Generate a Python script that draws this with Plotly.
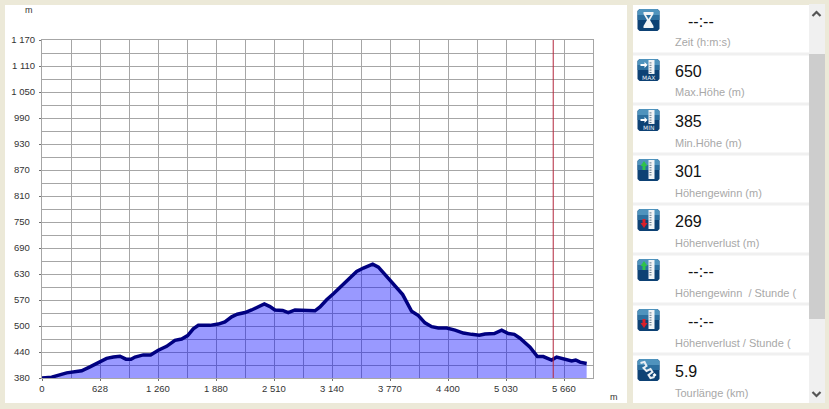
import plotly.graph_objects as go

distance_m = [0,105,268,431,521,612,702,775,847,912,967,1010,1100,1180,1263,1354,1444,1517,1582,1643,1698,1824,1915,1987,2060,2121,2205,2277,2349,2415,2476,2530,2614,2675,2748,2820,2892,2965,3020,3092,3165,3255,3346,3418,3491,3592,3654,3726,3798,3918,4015,4088,4160,4233,4305,4396,4486,4577,4667,4750,4812,4913,4993,5065,5130,5192,5301,5381,5445,5536,5590,5663,5717,5753,5797,5844,5916]
elevation_m = [380,382,392,397,406,417,426,429,431,424,424,429,434,434,445,454,468,471,479,495,503,503,506,511,523,529,533,539,547,553,547,539,538,533,539,538,537,537,546,563,577,596,614,629,637,646,639,621,602,575,536,526,509,500,497,497,492,485,482,480,483,484,492,484,482,473,452,430,430,422,429,425,420,420,422,417,414]
marker_m = [5553, 5553]
marker_elev = [380, 1170]

x_tick_labels = ["0","628","1\u00a0260","1\u00a0880","2\u00a0510","3\u00a0140","3\u00a0770","4\u00a0400","5\u00a0030","5\u00a0660"]
y_tick_labels = ["380","440","500","570","630","690","750","810","870","930","990","1\u00a0050","1\u00a0110","1\u00a0170"]

stat_values = ["--:--","650","385","301","269","--:--","--:--","5.9"]
stat_labels = ["Zeit (h:m:s)","Max.Höhe (m)","Min.Höhe (m)","Höhengewinn (m)","Höhenverlust (m)",
               "Höhengewinn  / Stunde (","Höhenverlust / Stunde (","Tourlänge (km)"]
stat_icons = ["time","max","min","gain","loss","gain","loss","road"]

W, H = 829, 409
L, R, T, B = 42, 593, 40, 378
X_MAX = 5985
Y_MIN, Y_MAX = 380, 1170
FONT = "Liberation Sans"
x_step = X_MAX / 19
y_step = (Y_MAX - Y_MIN) / 13

def px(x): return (x - L) / (R - L)
def py(y): return (B - y) / (B - T)

shapes, annos = [], []

def rect(x0, y0, x1, y1, color):
    shapes.append(dict(type="rect", xref="paper", yref="paper", layer="below",
                       x0=px(x0), x1=px(x1), y0=py(y0), y1=py(y1),
                       fillcolor=color, line=dict(width=0)))

def path(points, fill=None, line=None, width=1, closed=True, curve=False):
    d = f"M{px(points[0][0]):.5f},{py(points[0][1]):.5f} "
    d += " ".join(f"L{px(a):.5f},{py(b):.5f}" for a, b in points[1:])
    if closed:
        d += " Z"
    shapes.append(dict(type="path", xref="paper", yref="paper", path=d, layer="below",
                       fillcolor=fill if fill else "rgba(0,0,0,0)",
                       line=dict(color=line if line else "rgba(0,0,0,0)", width=width if line else 0)))

def text(x, y, s, size, color, anchor="left", font=FONT):
    annos.append(dict(xref="paper", yref="paper", x=px(x), y=py(y), text=s, showarrow=False,
                      xanchor=anchor, yanchor="middle", align=anchor,
                      font=dict(family=font, size=size, color=color), borderpad=0, borderwidth=0))

def icon(kind, top):
    x0, x1, y0 = 637.5, 659.5, top
    y1 = y0 + 22
    r = 2
    base = [(x0+r,y0),(x1-r,y0),(x1,y0+r),(x1,y1-r),(x1-r,y1),(x0+r,y1),(x0,y1-r),(x0,y0+r)]
    path(base, fill="#0d4174")
    path([(x0+r,y0),(x1-r,y0),(x1,y0+r),(x1,y0+6),(x0,y0+6),(x0,y0+r)], fill="#4f93bd")
    rect(x0, y0+6, x1, y0+11, "#2c6f9f")
    if kind == "time":
        path([(x0+6,y0+3),(x1-6,y0+3),(x1-6,y0+5),(x0+12.5,y0+11),(x1-6,y0+17),(x1-6,y0+19),
              (x0+6,y0+19),(x0+6,y0+17),(x0+9.5,y0+11),(x0+6,y0+5)], fill="#f2f4f6")
        path([(x0+8.5,y0+6),(x1-8.5,y0+6),(x0+11,y0+10)], fill="#2c6f9f")
    elif kind == "road":
        path([(x0+3,y0+4),(x0+7,y0+3),(x0+9,y0+7),(x0+6,y0+9),(x0+9,y0+12),(x0+13,y0+10),
              (x0+15,y0+13),(x0+11,y0+16),(x0+13,y0+19),(x0+17,y0+18)],
             line="#e9eef3", width=2, closed=False)
        path([(x1-5,y0+14),(x1-3,y0+16),(x1-5,y0+18),(x1-7,y0+16)], fill="#ffffff")
    else:
        ruler_end = y0 + 15 if kind in ("max", "min") else y0 + 20
        rect(x0+11, y0+1, x0+17, ruler_end, "#f2f4f6")
        for k in range(1, 7):
            t = y0 + 1 + k * 2.4
            if t < ruler_end - 1:
                rect(x0+12, t, x0+14, t+1, "#667a8d")
        if kind == "max":
            rect(x0+3, y0+5, x0+8, y0+7, "#ffffff")
            path([(x0+7,y0+3),(x0+10,y0+6),(x0+7,y0+9)], fill="#ffffff")
            text(x0+11, y0+18, "MAX", 6, "#e6edf3", "center", "DejaVu Sans")
        elif kind == "min":
            rect(x0+3, y0+10, x0+8, y0+12, "#ffffff")
            path([(x0+7,y0+8),(x0+10,y0+11),(x0+7,y0+14)], fill="#ffffff")
            text(x0+11, y0+18, "MIN", 6, "#e6edf3", "center", "DejaVu Sans")
        elif kind == "gain":
            rect(x0+5, y0+6, x0+8, y0+11, "#2fc24a")
            path([(x0+3,y0+7),(x0+6.5,y0+2),(x0+10,y0+7)], fill="#2fc24a")
        else:
            rect(x0+5, y0+10, x0+8, y0+15, "#d8202a")
            path([(x0+3,y0+14),(x0+6.5,y0+19),(x0+10,y0+14)], fill="#d8202a")

# window chrome
rect(5, 5, 627, 403, "#ffffff")
rect(633, 5, 809, 403, "#ffffff")
rect(809, 4, 825, 403, "#f0f0f0")
rect(809, 54, 825, 319, "#cdcdcd")
for i in range(1, 8):
    rect(633, 5 + 50 * i - 2.5, 809, 5 + 50 * i + 0.5, "#f0f0f0")
path([(812.5,16),(816.5,12),(820.5,16)], line="#555555", width=2.2, closed=False)
path([(812.5,392),(816.5,396),(820.5,392)], line="#555555", width=2.2, closed=False)

for i, (v, lab, ic) in enumerate(zip(stat_values, stat_labels, stat_icons)):
    top = 5 + 50 * i
    icon(ic, top + 4)
    vx = 688 if v == "--:--" else 675
    text(vx, top + 16, v, 16, "#111111")
    text(675, top + 37.5, lab, 11, "#a8a8a8")

text(29, 10, "m", 9, "#333333", "center")
text(614, 397, "m", 9, "#333333", "center")

fig = go.Figure()
fig.add_trace(go.Scatter(x=distance_m, y=elevation_m, mode="lines", fill="tozeroy",
                         fillcolor="rgba(0,0,255,0.4)",
                         line=dict(color="#000080", width=3.5), hoverinfo="skip"))
fig.add_trace(go.Scatter(x=marker_m, y=marker_elev, mode="lines",
                         line=dict(color="#b3263c", width=1), hoverinfo="skip"))

grid = "#a6a6a6"
fig.update_layout(
    width=W, height=H, showlegend=False,
    margin=dict(l=L, r=W - R, t=T, b=H - B, autoexpand=False),
    paper_bgcolor="#ece9d8", plot_bgcolor="rgba(0,0,0,0)",
    shapes=shapes, annotations=annos,
    font=dict(family=FONT, size=10, color="#333333"),
    xaxis=dict(range=[0, X_MAX], tickmode="array",
               tickvals=[2 * k * x_step for k in range(10)], ticktext=x_tick_labels,
               ticks="outside", ticklen=2, tickcolor="#707070", gridcolor=grid, gridwidth=1,
               showgrid=True, zeroline=False, showline=True, linecolor=grid, mirror=True,
               tickfont=dict(size=9.5, color="#333333", family=FONT), automargin=False,
               minor=dict(tickmode="array", tickvals=[(2 * k + 1) * x_step for k in range(10)],
                          showgrid=True, gridcolor=grid, gridwidth=1, ticks="")),
    yaxis=dict(range=[Y_MIN, Y_MAX], tickmode="array",
               tickvals=[Y_MIN + k * y_step for k in range(14)],
               ticktext=[t if len(t) > 3 else t + "\u00a0\u00a0" for t in y_tick_labels],
               ticks="outside", ticklen=2, tickcolor="#707070", gridcolor=grid, gridwidth=1,
               showgrid=True, zeroline=False, showline=True, linecolor=grid, mirror=True,
               ticklabelstandoff=2,
               tickfont=dict(size=9.5, color="#333333", family=FONT), automargin=False,
               minor=dict(tickmode="array", tickvals=[Y_MIN + (k + 0.5) * y_step for k in range(13)],
                          showgrid=True, gridcolor=grid, gridwidth=1, ticks="")),
)

fig.write_html("out.html", config=dict(displayModeBar=False),
               post_script="document.body.style.margin='0';document.body.style.overflow='hidden';")
